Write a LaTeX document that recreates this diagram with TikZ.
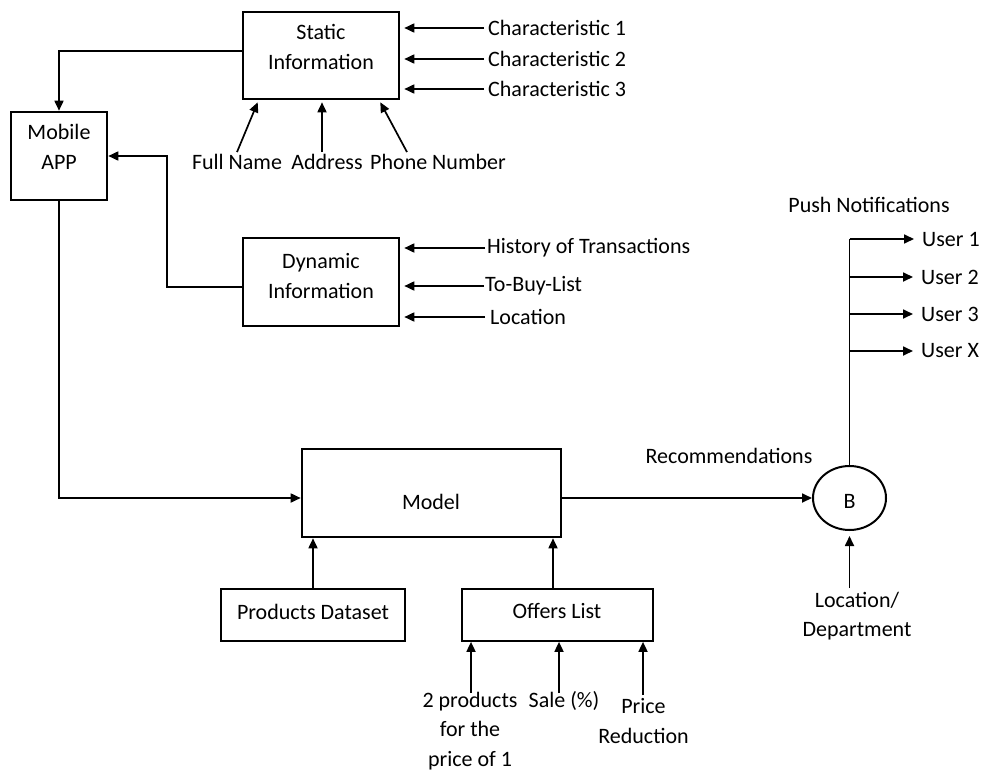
\documentclass[tikz,border=0pt]{standalone}
\usepackage{fontspec}
\setmainfont{Carlito}
\usetikzlibrary{arrows.meta,shapes.geometric}
\begin{document}
\begin{tikzpicture}[x=1pt,y=-1pt,
  every node/.style={font=\fontsize{22}{29.5}\selectfont},
  heavybox/.style={draw, line width=2.6pt, inner sep=0pt},
  lightbox/.style={draw, line width=1.7pt, inner sep=0pt},
  lbl/.style={inner sep=0pt, align=center},
  wire/.style={line width=1.7pt},
  arr/.style={wire, -{Triangle[length=10pt,width=9pt]}}]
\useasboundingbox (0,0) rectangle (982,771);

% main boxes
\node[heavybox, minimum width=156, minimum height=87] (static) at (321,55.5) {};
\node[lbl] (static-t) at (321,47) {Static\\Information};
\node[heavybox, minimum width=96, minimum height=88] (app) at (59,156) {};
\node[lbl] (app-t) at (59,147) {Mobile\\APP};
\node[heavybox, minimum width=156, minimum height=88] (dyn) at (321,282) {};
\node[lbl] (dyn-t) at (321,276) {Dynamic\\Information};
\node[heavybox, minimum width=259, minimum height=88] (model) at (431.5,493) {};
\node[lbl] (model-t) at (431,502) {Model};
\node[draw, ellipse, line width=2pt, inner sep=0pt, minimum width=73, minimum height=64] (b) at (849.5,498) {};
\node[lbl] (b-t) at (849.5,501) {B};
\node[lightbox, minimum width=184, minimum height=52] (prod) at (313,615) {};
\node[lbl] (prod-t) at (313,612) {Products Dataset};
\node[lightbox, minimum width=191, minimum height=52] (offers) at (557.5,615) {};
\node[lbl] (offers-t) at (557,611) {Offers List};

% static characteristics
\node[lbl, anchor=west] (c1) at (488,28) {Characteristic 1};
\node[lbl, anchor=west] (c2) at (488,59) {Characteristic 2};
\node[lbl, anchor=west] (c3) at (488,89) {Characteristic 3};
\foreach \c in {c1,c2,c3}
  \draw[arr, shorten >=4pt] ([xshift=-4pt]\c.west) -- (static.east |- \c.west);

\node[lbl] (fn) at (237,162) {Full Name};
\node[lbl] (ad) at (327,162) {Address};
\node[lbl] (ph) at (438,162) {Phone Number};
\draw[arr] ([xshift=0pt,yshift=2pt]fn.north) -- ([xshift=16pt,yshift=-2pt]static.south west);
\draw[arr] ([xshift=-5pt,yshift=2pt]ad.north) -- ([xshift=1pt,yshift=-2pt]static.south);
\draw[arr] ([xshift=-31pt,yshift=2pt]ph.north) -- ([xshift=-20pt,yshift=-2pt]static.south east);

% dynamic inputs
\node[lbl, anchor=west] (h1) at (487,248) {History of Transactions};
\node[lbl, anchor=west] (h2) at (485,286) {To-Buy-List};
\node[lbl, anchor=west] (h3) at (490,317) {Location};
\draw[arr, shorten >=4pt] ([xshift=-2pt]h1.west) -- (dyn.east |- h1.west);
\draw[arr, shorten >=4pt] ([xshift=-1pt]h2.west) -- (dyn.east |- h2.west);
\draw[arr, shorten >=4pt] ([xshift=-5pt]h3.west) -- (dyn.east |- h3.west);

% feeds into the mobile app
\coordinate (sbend) at (59,51);
\draw[arr] (static.west |- sbend) -- (sbend) -- (app.north);
\coordinate (dbend) at (167,287);
\draw[arr] (dyn.west |- dbend) -- (dbend) -- (dbend |- app.east) -- (app.east);

% app to model
\coordinate (abend) at (59,498);
\draw[arr] (app.south) -- (abend) -- (model.west |- abend);

% model inputs
\draw[arr] (prod.north) -- (prod.north |- model.south);
\coordinate (offx) at (553,589);
\draw[arr] (offx) -- (offx |- model.south);

\node[lbl] (twop) at (470,731) {2 products\\for the\\price of 1};
\node[lbl] (sale) at (564,701) {Sale (\%)};
\node[lbl] (price) at (643.5,721) {Price\\Reduction};
\coordinate (twopx) at (471,693);
\draw[arr] (twopx) -- (twopx |- offers.south);
\coordinate (salex) at (559,693);
\draw[arr] (salex) -- (salex |- offers.south);
\coordinate (pricex) at (643,695);
\draw[arr] (pricex) -- (pricex |- offers.south);

% recommendations to B
\node[lbl] (rec) at (729,456) {Recommendations};
\draw[arr] (model.east |- b.west) -- (b.west);

\node[lbl] (loc) at (857,616) {Location/\\Department};
\coordinate (locx) at (849.5,588);
\draw[arr, shorten >=5pt] (locx) -- (b.south);

% push notifications
\node[lbl] (push) at (869,205) {Push Notifications};
\node[lbl, anchor=west] (u1) at (922,239) {User 1};
\node[lbl, anchor=west] (u2) at (921,277) {User 2};
\node[lbl, anchor=west] (u3) at (921,314) {User 3};
\node[lbl, anchor=west] (ux) at (921,351) {User X};
\draw[wire] (b.north) -- (b.north |- u1.west);
\foreach \u in {u1,u2,u3,ux}
  \draw[arr, shorten >=8pt] (b.north |- \u.west) -- (\u.west);
\end{tikzpicture}
\end{document}
